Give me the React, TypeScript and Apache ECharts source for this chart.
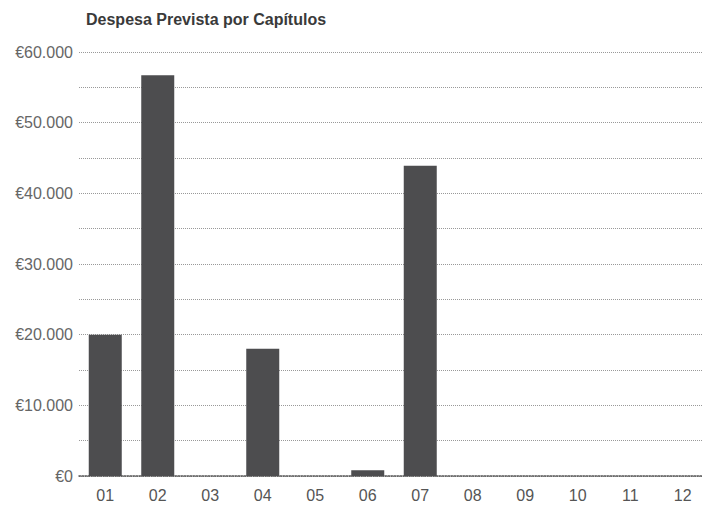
import React, { useEffect, useRef } from "react";
import * as echarts from "echarts";

const categories = ["01", "02", "03", "04", "05", "06", "07", "08", "09", "10", "11", "12"];
const values = [20000, 56700, 0, 18000, 0, 800, 43900, 0, 0, 0, 0, 0];
const chartTitle = "Despesa Prevista por Capítulos";

function fmtEuro(v: number): string {
  const s = Math.round(v).toString().replace(/\B(?=(\d{3})+(?!\d))/g, ".");
  return "€" + s;
}

export default function App() {
  const ref = useRef<HTMLDivElement>(null);
  useEffect(() => {
    if (!ref.current) return;
    const chart = echarts.init(ref.current, undefined, { renderer: "svg" });
    chart.setOption({
      animation: false,
      backgroundColor: "#ffffff",
      title: {
        text: chartTitle,
        left: 81,
        top: 6,
        textStyle: {
          fontFamily: "Liberation Sans, Arial, sans-serif",
          fontSize: 16,
          fontWeight: "bold",
          color: "#3a3a3a",
        },
      },
      grid: {
        left: 79,
        width: 630,
        top: 52,
        bottom: 32,
        containLabel: false,
        outerBoundsMode: "none",
      },
      xAxis: {
        type: "category",
        data: categories,
        axisTick: { show: false },
        axisLine: { show: true, lineStyle: { color: "#555", type: "dotted", width: 1.5 } },
        axisLabel: {
          color: "#555",
          fontSize: 16,
          fontFamily: "Liberation Sans, Arial, sans-serif",
          margin: 11,
        },
      },
      yAxis: {
        type: "value",
        min: 0,
        max: 60000,
        interval: 5000,
        axisLine: { show: false },
        axisTick: { show: false },
        splitLine: { show: true, lineStyle: { color: "#999", type: "dotted", width: 1 } },
        axisLabel: {
          color: "#666",
          fontSize: 16,
          fontFamily: "Liberation Sans, Arial, sans-serif",
          margin: 6,
          formatter: (v: number) => (v % 10000 === 0 ? fmtEuro(v) : ""),
        },
      },
      series: [
        {
          type: "bar",
          data: values,
          barWidth: 33,
          itemStyle: { color: "#4d4d4f" },
        },
      ],
    });
    return () => chart.dispose();
  }, []);
  return <div ref={ref} style={{ width: 702, height: 508, position: "absolute", left: 0, top: 0 }} />;
}
